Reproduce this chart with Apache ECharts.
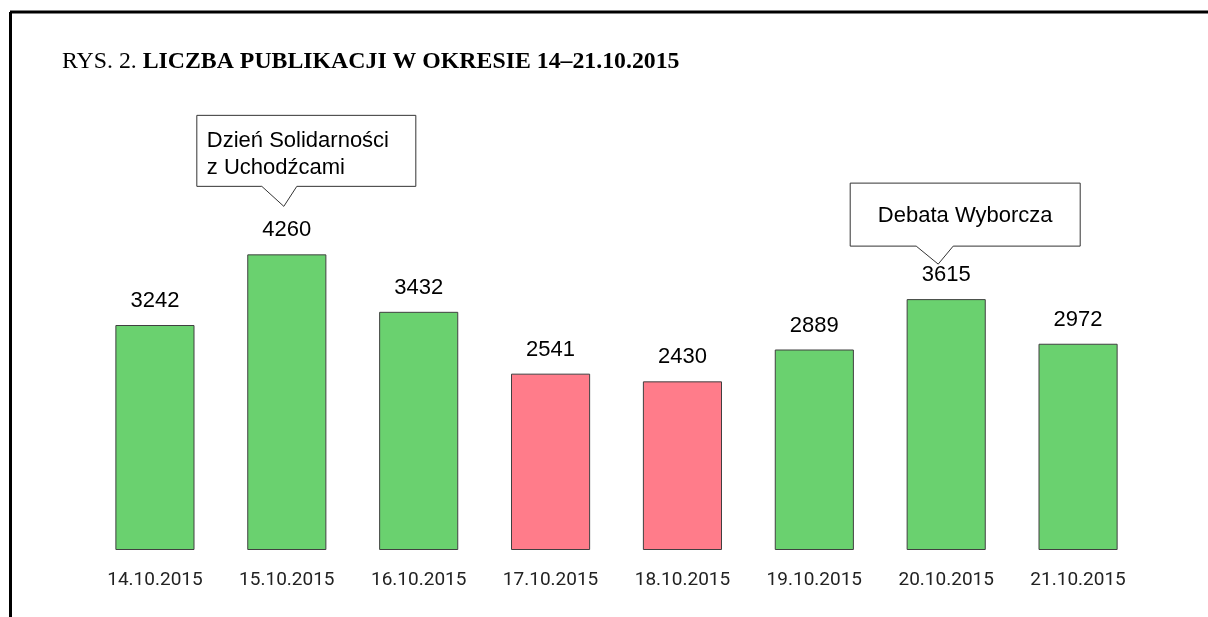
<!DOCTYPE html>
<html>
<head>
<meta charset="utf-8">
<script src="https://cdn.jsdelivr.net/npm/echarts@6/dist/echarts.min.js"></script>
<style>
    html, body { margin: 0; padding: 0; background: #fff; }
    #chart { width: 1208px; height: 617px; }
</style>
</head>
<body>
<div id="chart"></div>
<script>
var categories = ['14.10.2015', '15.10.2015', '16.10.2015', '17.10.2015', '18.10.2015', '19.10.2015', '20.10.2015', '21.10.2015'];
var values = [3242, 4260, 3432, 2541, 2430, 2889, 3615, 2972];
var weekendDays = ['17.10.2015', '18.10.2015'];
var calloutDays = ['15.10.2015', '20.10.2015'];
var calloutTexts = ['Dzień Solidarności\nz Uchodźcami', 'Debata Wyborcza'];

var chart = echarts.init(document.getElementById('chart'));

var barData = [];
values.forEach(function(v, i) {
    var red = weekendDays.indexOf(categories[i]) >= 0;
    barData.push({
        value: v,
        itemStyle: { color: red ? '#FF7C8A' : '#6AD16F' }
    });
});

var frame = [
    { type: 'line', shape: { x1: 10, y1: 12, x2: 1208, y2: 12 }, style: { stroke: '#000', lineWidth: 3 } },
    { type: 'line', shape: { x1: 10.5, y1: 12, x2: 10.5, y2: 617 }, style: { stroke: '#000', lineWidth: 3 } }
];

var option = {
    animation: false,
    title: {
        left: 57,
        top: 45,
        text: '{a|RYS. 2. }{b|LICZBA PUBLIKACJI W OKRESIE 14–21.10.2015}',
        textStyle: {
            fontWeight: 'normal',
            rich: {
                a: { fontFamily: 'Liberation Serif', fontSize: 23.8, fontWeight: 'normal', color: '#000' },
                b: { fontFamily: 'Liberation Serif', fontSize: 23.8, fontWeight: 'bold', color: '#000' }
            }
        }
    },
    grid: { left: 89, right: 64, top: 203, bottom: 67 },
    xAxis: {
        type: 'category',
        data: categories,
        axisLine: { show: false },
        axisTick: { show: false },
        axisLabel: {
            interval: 0,
            margin: 21,
            fontFamily: 'Roboto',
            fontSize: 19,
            color: '#222'
        }
    },
    yAxis: {
        type: 'value',
        min: 0,
        max: 5000,
        show: false
    },
    series: [{
        type: 'bar',
        data: barData,
        barWidth: '60%',
        itemStyle: { borderColor: '#404040', borderWidth: 1 },
        label: {
            show: true,
            position: 'top',
            distance: 13,
            fontFamily: 'Liberation Sans',
            fontSize: 22,
            color: '#000'
        }
    }],
    graphic: frame
};

chart.setOption(option);

// callout shapes, relative to the pointer tip
var calloutLayout = [
    { dx: -3, dy: -48, left: -87, right: 132, top: -91, bottom: -20, pl: -22, pr: 13, textLeft: 10, align: 'left', textDy: 4 },
    { dx: -8, dy: -35, left: -88, right: 142, top: -81, bottom: -18, pl: -22, pr: 15, textLeft: 115, align: 'center', textDy: 1 }
];

var graphics = frame.slice();
calloutDays.forEach(function(day, k) {
    var idx = categories.indexOf(day);
    var p = chart.convertToPixel({ seriesIndex: 0 }, [idx, values[idx]]);
    var L = calloutLayout[k];
    var tx = p[0] + L.dx, ty = p[1] + L.dy;
    graphics.push({
        type: 'polygon',
        shape: {
            points: [
                [tx + L.left, ty + L.top], [tx + L.right, ty + L.top],
                [tx + L.right, ty + L.bottom], [tx + L.pr, ty + L.bottom],
                [tx, ty], [tx + L.pl, ty + L.bottom],
                [tx + L.left, ty + L.bottom]
            ]
        },
        style: { fill: '#fff', stroke: '#333', lineWidth: 1 }
    });
    graphics.push({
        type: 'text',
        x: tx + L.left + L.textLeft,
        y: ty + (L.top + L.bottom) / 2 + L.textDy,
        style: {
            text: calloutTexts[k],
            fontFamily: 'Liberation Sans',
            fontSize: 22,
            lineHeight: 27,
            fill: '#000',
            align: L.align,
            verticalAlign: 'middle'
        }
    });
});

chart.setOption({ graphic: graphics }, { replaceMerge: ['graphic'] });
</script>
</body>
</html>
